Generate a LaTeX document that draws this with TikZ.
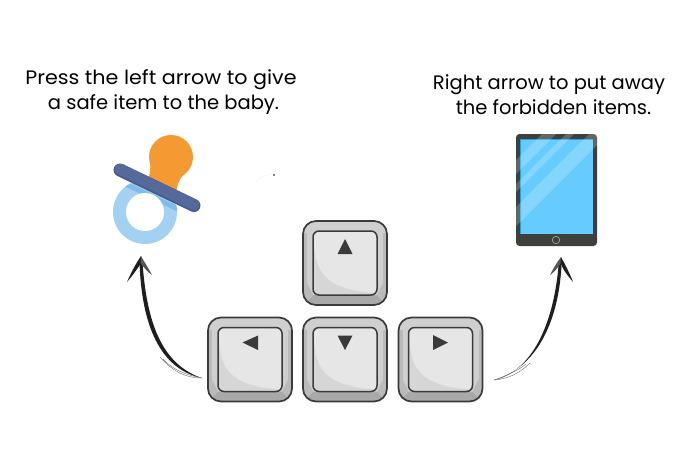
\documentclass[tikz,border=0pt]{standalone}
\usepackage{fontspec}
\setmainfont{Poppins}
\usetikzlibrary{calc}
\definecolor{keyline}{HTML}{3A3A3A}
\definecolor{keytop}{HTML}{E6E6E6}
\definecolor{keyshade}{HTML}{D6D6D6}
\definecolor{keyside}{HTML}{CFCFCF}
\definecolor{keylow}{HTML}{A9A9A9}
\definecolor{keydark}{HTML}{BABABA}
\definecolor{ringblue}{HTML}{A3D1F2}
\definecolor{ringshade}{HTML}{7FBCEC}
\definecolor{teat}{HTML}{F59A33}
\definecolor{shield}{HTML}{56699B}
\definecolor{shieldlow}{HTML}{465A8C}
\definecolor{bezel}{HTML}{3F403B}
\definecolor{screenblue}{HTML}{66CCFF}
\definecolor{screenedge}{HTML}{1FA3E6}
\definecolor{inkc}{HTML}{1E1E1E}
\tikzset{
  x=1pt,y=-1pt,
  caption/.style={inner sep=0pt,font=\fontsize{19.5pt}{25pt}\selectfont,text=black,align=center},
  keybox/.style={rectangle,minimum width=85pt,minimum height=85pt,inner sep=0pt},
  ghost/.style={rectangle,inner sep=0pt},
  brush/.style={fill=inkc,draw=none},
  brushlight/.style={fill=inkc!75,draw=none},
  streak/.style={draw=inkc!60,line width=.45pt},
}
\newcommand{\keycap}[4]{%
  \node[keybox] (#1) at (#2,#3) {};
  \begin{scope}[shift={(#2,#3)}]
    \begin{scope}
      \clip[rounded corners=13pt] (-42,-42) rectangle (42,42);
      \fill[keyside] (-42,-42) rectangle (42,42);
      \fill[keylow] (-42,42) -- (-32,32) -- (32,32) -- (42,42) -- cycle;
      \fill[keydark] (-42,-30) rectangle (-38,42);
      \fill[keydark] (38,-30) rectangle (42,42);
      \fill[keydark] (-42,42) -- (-32,32) -- (-38,20) -- (-42,20) -- cycle;
      \fill[keydark] (42,42) -- (32,32) -- (38,20) -- (42,20) -- cycle;
    \end{scope}
    \draw[keyline,line width=1.7pt,rounded corners=13pt] (-42,-42) rectangle (42,42);
    \begin{scope}
      \clip[rounded corners=6pt] (-32,-32) rectangle (32,32);
      \fill[keytop] (-32,-32) rectangle (32,32);
      \fill[keyshade] (-31,-18) .. controls (-29,5) and (-24,27) .. (31,30) -- (31,32) -- (-32,32) -- cycle;
    \end{scope}
    \draw[keyline,line width=1.5pt,rounded corners=6pt] (-32,-32) rectangle (32,32);
    \fill[keyline] #4 -- cycle;
  \end{scope}
}
\begin{document}
\begin{tikzpicture}
\useasboundingbox (0,0) rectangle (700,448);
\fill[white] (0,0) rectangle (700,448);

% captions
\node[caption,anchor=base] (capL1) at (161,84) {\scalebox{1.06}[1]{Press the left arrow to give}};
\node[caption,anchor=base] (capL2) at (163.5,109) {a safe item to the baby.};
\node[caption,anchor=base] (capR1) at (549,89) {Right arrow to put away};
\node[caption,anchor=base] (capR2) at (553.5,114) {the forbidden items.};

% pacifier
\node[ghost,minimum width=90pt,minimum height=110pt] (pacifier) at (155,190) {};
\begin{scope}
  \fill[ringblue] (145,212) circle (32);
  \begin{scope}
    \clip (145,212) circle (32);
    \draw[ringshade,line width=5pt] (113,178) -- (199,219);
  \end{scope}
  \fill[white] (145,212) circle (19);
  \fill[teat] (171,157) circle (22);
  \fill[teat] (150,160) .. controls (151,167) and (150,173) .. (148,181) -- (176,195) .. controls (177,185) and (179,179) .. (184,174) -- cycle;
  \draw[shieldlow,line width=13pt,line cap=round] (120,170) -- (194,205.5);
  \draw[shield,line width=11pt,line cap=round] (120,169.2) -- (194,204.7);
\end{scope}

% tablet
\node[ghost,minimum width=81pt,minimum height=112pt] (tablet) at (556.5,190) {};
\begin{scope}
  \fill[bezel,rounded corners=3.5pt] (516,134) rectangle (597,246);
  \fill[screenedge] (520,139) rectangle (593,234);
  \fill[screenblue] (521,140) rectangle (593,233.5);
  \begin{scope}
    \clip[rounded corners=3.5pt] (516,134) rectangle (597,246);
    \clip (516,134) rectangle (597,234);
    \fill[white,opacity=.2] (510,166) -- (610,66) -- (610,80) -- (510,180) -- cycle;
    \fill[white,opacity=.2] (510,190) -- (610,90) -- (610,98) -- (510,198) -- cycle;
    \fill[white,opacity=.2] (510,213) -- (610,113) -- (610,132) -- (510,232) -- cycle;
  \end{scope}
  \draw[gray!80,line width=.8pt] (556,240) circle (3.7);
\end{scope}

% keys
\keycap{keyU}{345}{263}{(-7.5,-9) -- (0,-24) -- (7.5,-9)}
\keycap{keyL}{250}{359.5}{(-7.5,-17) -- (8,-24) -- (8,-9.5)}
\keycap{keyD}{345}{359.5}{(-7.5,-24) -- (7.5,-24) -- (0,-9.5)}
\keycap{keyR}{440.5}{359.5}{(-7.5,-24.5) -- (-7.5,-9.5) -- (7.5,-17)}

% hand-drawn arrows
\coordinate (tailL) at ($(keyL.west)+(-5.5,18.5)$);
\coordinate (tipL) at ($(pacifier.south)+(-14,11)$);
\coordinate (tailR) at ($(keyR.east)+(11,20.5)$);
\coordinate (tipR) at ($(tablet.south)+(4.5,11)$);

\fill[brush] (tailL) .. controls (160,369) and (141.5,325) .. (139.5,262) -- (tipL)
   -- (142.5,262) .. controls (146.5,321) and (161,364) .. cycle;
\draw[streak] (tailL) .. controls (186,375) and (173,370) .. (163,359);
\draw[streak] (tailL) .. controls (188,378) and (174,373) .. (160,357);
\fill[brush] (tipL) .. controls (136,263) and (131,273) .. (127,282) .. controls (133,275) and (138,268) .. (141,263) -- cycle;
\fill[brushlight] (tipL) .. controls (145,263) and (149,269) .. (152,275) .. controls (148,272) and (144,268) .. (140.5,263) -- cycle;

\fill[brush] (tailR) .. controls (530,372) and (553,328) .. (558.5,266) -- (tipR)
   -- (561.5,266) .. controls (558,325) and (535,368) .. cycle;
\draw[streak] (tailR) .. controls (507,379) and (519,374) .. (530,363);
\draw[streak] (tailR) .. controls (505,376) and (516,372) .. (526,364);
\fill[brushlight] (tipR) .. controls (557,262) and (553,269) .. (550,275) .. controls (554,272) and (558,268) .. (561,263) -- cycle;
\fill[brush] (tipR) .. controls (565,264) and (570,274) .. (573,282) .. controls (568,276) and (563,270) .. (560.5,263) -- cycle;

% stray specks of the source picture
\fill[gray] (272.5,173.5) rectangle (274.5,175.5);
\draw[gray!12,line width=.4pt] (272,174) .. controls (264,175) and (258,178) .. (256,183);
\end{tikzpicture}
\end{document}
